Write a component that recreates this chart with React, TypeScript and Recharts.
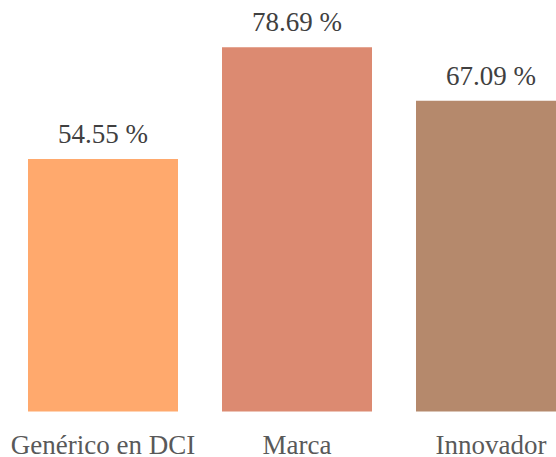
import React from "react";
import { BarChart, Bar, XAxis, YAxis, Cell, LabelList } from "recharts";

const categories = ["Genérico en DCI", "Marca", "Innovador"];
const values = [54.55, 78.69, 67.09];
const colors = ["#FFA96D", "#DC8A71", "#B5896C"];

const data = categories.map((name, i) => ({ name, value: values[i] }));

const FONT = "'Liberation Serif', 'Times New Roman', serif";

const ValueLabel = (props: any) => {
  const { x, y, width, value } = props;
  return (
    <text
      x={Number(x) + Number(width) / 2}
      y={Number(y) - 16}
      textAnchor="middle"
      fill="#404040"
      fontSize={27}
      fontFamily={FONT}
    >
      {`${Number(value).toFixed(2)} %`}
    </text>
  );
};

const CatTick = (props: any) => {
  const { x, y, payload } = props;
  return (
    <text
      x={x}
      y={Number(y) + 42.5}
      textAnchor="middle"
      fill="#595959"
      fontSize={27}
      fontFamily={FONT}
    >
      {payload.value}
    </text>
  );
};

export default function App() {
  return (
    <div
      style={{
        position: "absolute",
        left: 0,
        top: 0,
        width: 556,
        height: 457,
        overflow: "hidden",
        background: "#fff",
      }}
    >
      <BarChart
        width={600}
        height={457}
        data={data}
        margin={{ top: 41.1, right: 12, bottom: 0, left: 6 }}
      >
        <XAxis
          dataKey="name"
          axisLine={false}
          tickLine={false}
          tickSize={0}
          tickMargin={0}
          height={45.5}
          tick={<CatTick />}
          interval={0}
        />
        <YAxis hide domain={[0, 80]} />
        <Bar dataKey="value" barSize={150} isAnimationActive={false}>
          {data.map((d, i) => (
            <Cell key={d.name} fill={colors[i]} />
          ))}
          <LabelList dataKey="value" content={<ValueLabel />} />
        </Bar>
      </BarChart>
    </div>
  );
}
